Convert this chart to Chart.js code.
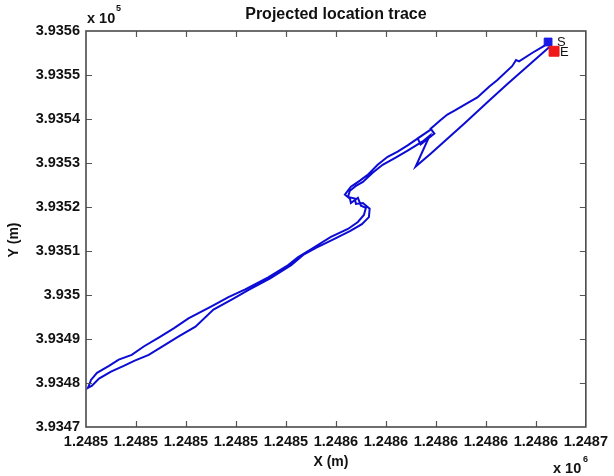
<!DOCTYPE html>
<html><head><meta charset="utf-8">
<script src="https://cdn.jsdelivr.net/npm/chart.js@4"></script>
<style>html,body{margin:0;padding:0;background:#fff}canvas{display:block}</style>
</head><body>
<canvas id="c" width="614" height="476"></canvas>
<script>
const chartTitle = 'Projected location trace';
const xAxisTitle = 'X (m)';
const yAxisTitle = 'Y (m)';
const xTickLabels = ['1.2485','1.2485','1.2485','1.2485','1.2485','1.2486','1.2486','1.2486','1.2486','1.2486','1.2487'];
const yTickLabels = ['3.9347','3.9348','3.9349','3.935','3.9351','3.9352','3.9353','3.9354','3.9355','3.9356'];
const xExponent = '6';
const yExponent = '5';

// projected trace (m), start S -> end E
const traceX = [
1248684.9,1248683.3,1248678.5,1248673.3,1248672.1,1248670.5,1248664.5,1248661.4,1248656.6,1248652.6,
1248647.8,1248644.6,1248641.8,1248639.4,1248637.9,1248639.4,1248633.9,1248632.7,1248637.9,1248628.7,
1248624.7,1248620.7,1248616.7,1248612.7,1248609.6,1248606.0,1248603.6,1248605.6,1248606.0,1248608.8,
1248610.0,1248612.0,1248611.2,1248608.8,1248604.8,1248598.0,1248590.0,1248584.9,1248580.9,1248572.9,
1248563.7,1248557.0,1248550.2,1248541.0,1248535.1,1248529.1,1248523.1,1248518.3,1248513.1,1248509.2,
1248504.4,1248502.0,1248500.8,
1248502.4,1248505.2,1248510.0,1248515.1,1248519.5,1248525.1,1248531.1,1248537.1,1248543.8,1248551.0,
1248559.0,1248564.9,1248573.7,1248582.1,1248586.9,1248592.0,1248599.2,1248605.6,1248610.4,1248613.2,
1248613.5,1248610.8,1248608.0,1248607.6,1248604.8,1248605.6,1248608.0,1248610.8,1248614.7,1248618.7,
1248623.9,1248628.7,1248634.7,1248637.5,1248631.9,1248637.9,1248651.4,1248660.6,1248668.5,1248678.5,
1248685.3,1248687.3];
const traceY = [
393557.5,393556.6,393555.0,393553.1,393553.4,393552.0,393548.8,393547.4,393544.9,393543.6,
393542.0,393541.0,393539.7,393538.5,393537.8,393536.7,393534.2,393535.6,393537.6,393534.0,
393532.6,393531.4,393529.6,393527.3,393526.0,393524.6,393522.8,393521.9,393520.9,393522.1,
393520.3,393519.8,393518.2,393516.6,393515.0,393513.2,393510.4,393508.6,393506.8,393504.0,
393501.3,393499.5,393497.4,393494.7,393492.4,393490.3,393488.3,393486.4,393485.3,393483.9,
393482.3,393480.7,393478.9,
393479.4,393481.0,393482.6,393483.9,393485.1,393486.4,393488.5,393490.6,393492.8,393496.7,
393499.2,393501.1,393503.8,393506.8,393509.1,393510.7,393512.7,393514.5,393516.1,393517.7,
393519.6,393520.9,393520.7,393521.9,393522.3,393523.7,393524.8,393525.7,393527.8,393529.6,
393531.2,393532.8,393534.9,393536.2,393529.2,393532.1,393539.0,393543.8,393547.9,393552.9,
393556.3,393555.4];
const startLabel = 'S';
const endLabel = 'E';

const FONT = '"Liberation Sans", Arial, Helvetica, sans-serif';
const n = traceX.length;

const decor = {
  id: 'decor',
  beforeDraw(chart) {
    const c = chart.ctx;
    c.save(); c.fillStyle = '#fff'; c.fillRect(0, 0, chart.width, chart.height); c.restore();
  },
  afterDraw(chart) {
    const c = chart.ctx, a = chart.chartArea, xs = chart.scales.x, ys = chart.scales.y;
    c.save();
    // inward ticks
    c.strokeStyle = '#555'; c.lineWidth = 1.2;
    c.beginPath();
    xs.ticks.forEach((t, i) => {
      if (i === 0 || i === xs.ticks.length - 1) return;
      const p = Math.round(xs.getPixelForValue(t.value)) + 0.5;
      c.moveTo(p, a.bottom); c.lineTo(p, a.bottom - 6);
      c.moveTo(p, a.top); c.lineTo(p, a.top + 6);
    });
    ys.ticks.forEach((t, i) => {
      if (i === 0 || i === ys.ticks.length - 1) return;
      const p = Math.round(ys.getPixelForValue(t.value)) + 0.5;
      c.moveTo(a.left, p); c.lineTo(a.left + 6, p);
      c.moveTo(a.right, p); c.lineTo(a.right - 6, p);
    });
    c.stroke();
    // box
    c.strokeStyle = '#4a4a4a'; c.lineWidth = 1.6;
    c.strokeRect(a.left, a.top, a.right - a.left, a.bottom - a.top);
    // title
    c.fillStyle = '#111';
    c.textAlign = 'center'; c.textBaseline = 'middle';
    c.font = 'bold 16px ' + FONT;
    c.fillText(chartTitle, (a.left + a.right) / 2, 15);
    // axis titles
    c.font = 'bold 14px ' + FONT;
    c.fillText(xAxisTitle, (a.left + a.right) / 2 - 5, 462);
    c.save(); c.translate(14, 240); c.rotate(-Math.PI / 2); c.fillText(yAxisTitle, 0, 0); c.restore();
    // exponents
    c.textAlign = 'left';
    c.font = 'bold 14.5px ' + FONT;
    c.fillText('x 10', 87, 19);
    c.fillText('x 10', 553, 469);
    c.font = 'bold 9px ' + FONT;
    c.fillText(yExponent, 116, 9);
    c.fillText(xExponent, 583, 460);
    // S / E labels
    c.font = '13px ' + FONT;
    const sx = xs.getPixelForValue(traceX[0]), sy = ys.getPixelForValue(traceY[0]);
    const ex = xs.getPixelForValue(traceX[n - 1]), ey = ys.getPixelForValue(traceY[n - 1]);
    c.fillText(startLabel, sx + 9, sy);
    c.fillText(endLabel, ex + 6, ey + 1);
    c.restore();
  }
};

const tickFont = { family: FONT, size: 14.5, weight: 'bold' };

new Chart(document.getElementById('c'), {
  type: 'scatter',
  data: {
    datasets: [
      { label: endLabel, data: [{ x: traceX[n - 1], y: traceY[n - 1] }], pointStyle: 'rect',
        pointRadius: 7, backgroundColor: '#f01818', borderColor: '#f01818', borderWidth: 1 },
      { label: startLabel, data: [{ x: traceX[0], y: traceY[0] }], pointStyle: 'rect',
        pointRadius: 5.5, backgroundColor: '#1a1ae6', borderColor: '#1a1ae6', borderWidth: 1 },
      { label: 'trace', data: traceX.map((x, i) => ({ x: x, y: traceY[i] })), showLine: true,
        borderColor: '#0c0cd4', borderWidth: 2, pointRadius: 0, fill: false, tension: 0 }
    ]
  },
  options: {
    responsive: false, animation: false, devicePixelRatio: 1,
    layout: { padding: { top: 31, right: 25, left: 0, bottom: 0 } },
    plugins: { legend: { display: false }, tooltip: { enabled: false }, title: { display: false } },
    scales: {
      x: {
        type: 'linear', min: 1248500, max: 1248700,
        grid: { display: false, drawTicks: false }, border: { display: false },
        ticks: { stepSize: 20, autoSkip: false, maxRotation: 0, minRotation: 0, padding: 6,
          color: '#111', font: tickFont, callback: (v, i) => xTickLabels[i] },
        afterFit(s) { s.height = 49; }
      },
      y: {
        type: 'linear', min: 393470, max: 393560,
        grid: { display: false, drawTicks: false }, border: { display: false },
        ticks: { stepSize: 10, autoSkip: false, padding: 6,
          color: '#111', font: tickFont, callback: (v, i) => yTickLabels[i] },
        afterFit(s) { s.width = 86; }
      }
    }
  },
  plugins: [decor]
});
</script>
</body></html>
